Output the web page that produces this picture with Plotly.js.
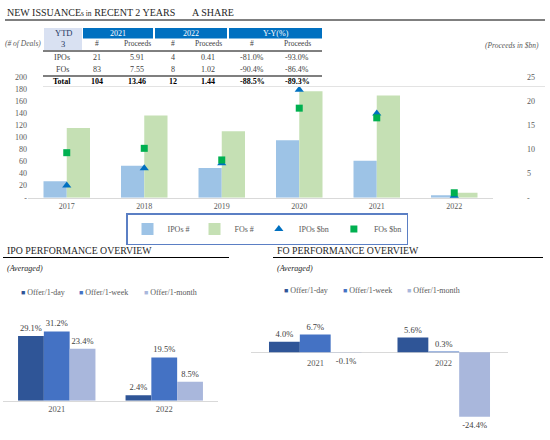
<!DOCTYPE html>
<html><head><meta charset="utf-8">
<script src="https://cdn.plot.ly/plotly-3.0.1.min.js"></script>
<style>html,body{margin:0;padding:0;background:#fff}#chart{width:550px;height:440px}</style>
</head><body><div id="chart"></div>
<script>
// ---------------- DATA ----------------
const years = ['2017', '2018', '2019', '2020', '2021', '2022'];
const ipoCount = [27, 53, 49, 95, 61, 4];
const foCount = [115, 136, 110, 176, 169, 8];
const ipoProceeds = [2.5, 6.1, 7.1, 22.3, 17.4, 0.41];
const foProceeds = [9.3, 10.2, 7.8, 18.5, 16.5, 1.02];
const leftTickVals = [0, 20, 40, 60, 80, 100, 120, 140, 160, 180, 200];
const leftTickText = ['-', '20', '40', '60', '80', '100', '120', '140', '160', '180', '200'];
const rightTickVals = [0, 5, 10, 15, 20, 25];
const rightTickText = ['-', '5', '10', '15', '20', '25'];

const ytdLabel = 'YTD';
const ytdMonth = '3';
const tableYears = ['2021', '2022', 'Y-Y(%)'];
const tableSubHeaders = ['#', 'Proceeds', '#', 'Proceeds', '#', 'Proceeds'];
const tableRowLabels = ['IPOs', 'FOs', 'Total'];
const ipoRow = ['21', '5.91', '4', '0.41', '-81.0%', '-93.0%'];
const foRow = ['83', '7.55', '8', '1.02', '-90.4%', '-86.4%'];
const totalRow = ['104', '13.46', '12', '1.44', '-88.5%', '-89.3%'];

const perfYears = ['2021', '2022'];
const perfSeries = ['Offer/1-day', 'Offer/1-week', 'Offer/1-month'];
const ipoDay = [29.1, 2.4];
const ipoWeek = [31.2, 19.5];
const ipoMonth = [23.4, 8.5];
const foDay = [4.0, 5.6];
const foWeek = [6.7, 0.3];
const foMonth = [-0.1, -24.4];

// ---------------- HELPERS ----------------
const W = 550, H = 440;
const px = v => v / W;
const py = v => 1 - v / H;
const SERIF = '"Liberation Serif", "DejaVu Serif", serif';
const GRAY = '#595959';
const TXT = '#404040';
const annotations = [];
const shapes = [];
function addText(text, x, y, o) {
  o = o || {};
  annotations.push({
    text: text, x: px(x), y: py(y), xref: 'paper', yref: 'paper',
    xanchor: o.xanchor || 'center', yanchor: 'middle', showarrow: false,
    font: { family: SERIF, size: o.size || 8, color: o.color || TXT }
  });
}
function addRect(x0, y0, x1, y1, fill) {
  shapes.push({ type: 'rect', xref: 'paper', yref: 'paper', x0: px(x0), x1: px(x1),
    y0: py(y1), y1: py(y0), fillcolor: fill, line: { width: 0 }, layer: 'below' });
}
function addLine(x0, y, x1, color, width) {
  shapes.push({ type: 'line', xref: 'paper', yref: 'paper', x0: px(x0), x1: px(x1),
    y0: py(y), y1: py(y), line: { color: color, width: width } });
}

// ---------------- HEADINGS ----------------
addText('NEW ISSUANCE<span style="font-size:7.5px">s in</span> RECENT 2 YEARS', 5, 13, { xanchor: 'left', size: 10, color: '#262626' });
addText('A SHARE', 190, 13, { xanchor: 'left', size: 10, color: '#262626' });
addLine(5, 20, 545, '#000', 1);

// ---------------- TABLE ----------------
const colCenters = [97, 137, 173, 208, 252, 297];
const headerSpans = [[83, 153], [155, 227], [229, 322]];
addRect(44, 28, 82, 50, '#d9e1f2');
headerSpans.forEach((s, i) => {
  addRect(s[0], 28, s[1], 38.5, '#0070c0');
  addText(tableYears[i], (s[0] + s[1]) / 2, 33.3, { color: '#ffffff' });
});
addText(ytdLabel, 63, 33.3, { color: '#1f3864', size: 8.5 });
addText(ytdMonth, 63, 43.5, { color: '#1f3864', size: 8.5 });
tableSubHeaders.forEach((t, i) => addText(t, colCenters[i], 43.5, { size: 7.5 }));
addText('<i>(# of Deals)</i>', 23, 43.5, { size: 7.5, color: GRAY });
addText('<i>(Proceeds in $bn)</i>', 541, 45, { xanchor: 'right', size: 7.5, color: GRAY });
addLine(43, 51, 322, '#000', 1);
const tableRows = [ipoRow, foRow, totalRow];
const rowY = [57.7, 69.7, 81.7];
tableRows.forEach((row, r) => {
  const bold = r === 2;
  const wrap = t => bold ? '<b>' + t + '</b>' : t;
  addText(wrap(tableRowLabels[r]), 62, rowY[r], { color: bold ? '#000' : TXT });
  row.forEach((v, c) => addText(wrap(v), colCenters[c], rowY[r], { color: bold ? '#000' : TXT }));
});
addLine(43, 76, 322, '#000', 1.2);
addLine(43, 86.5, 545, '#e3e3e3', 1);

// ---------------- BOTTOM TITLES ----------------
addText('IPO PERFORMANCE OVERVIEW', 5, 250, { xanchor: 'left', size: 9.8, color: '#262626' });
addLine(3, 257.5, 229, '#000', 1);
addText('<i>(Averaged)</i>', 5, 268.5, { xanchor: 'left', size: 8, color: '#262626' });
addText('FO PERFORMANCE OVERVIEW', 275, 250, { xanchor: 'left', size: 9.8, color: '#262626' });
addLine(273, 257.5, 543, '#000', 1);
addText('<i>(Averaged)</i>', 275, 268.5, { xanchor: 'left', size: 8, color: '#262626' });

// legends of the performance charts
const perfColors = ['#2f5597', '#4472c4', '#a9b7dc'];
const ipoLegendX = [19, 77, 142];
const foLegendX = [282, 341, 405];
perfSeries.forEach((name, i) => {
  const t = '<span style="color:' + perfColors[i] + ';font-size:7px">■</span> ' + name;
  addText(t, ipoLegendX[i], 292, { xanchor: 'left', size: 8, color: GRAY });
  addText(t, foLegendX[i], 290, { xanchor: 'left', size: 8, color: GRAY });
});

// FO category labels sitting on the zero line (x given as category index)
perfYears.forEach((yr, i) => {
  annotations.push({ text: yr, x: i, y: 0, xref: 'x3', yref: 'y4', yanchor: 'top',
    yshift: -4, showarrow: false, font: { family: SERIF, size: 8.5, color: GRAY } });
});

// ---------------- TRACES ----------------
const traces = [
  { type: 'bar', x: years, y: ipoCount, name: 'IPOs #', marker: { color: '#9dc3e6' },
    width: 0.3, offset: -0.3, xaxis: 'x', yaxis: 'y', hoverinfo: 'skip' },
  { type: 'bar', x: years, y: foCount, name: 'FOs #', marker: { color: '#c5e0b4' },
    width: 0.3, offset: 0, xaxis: 'x', yaxis: 'y', hoverinfo: 'skip' },
  { type: 'scatter', mode: 'markers', x: years, y: ipoProceeds, name: 'IPOs $bn',
    xaxis: 'x', yaxis: 'y2', marker: { symbol: 'triangle-up', size: 8, color: '#0070c0' }, cliponaxis: false },
  { type: 'scatter', mode: 'markers', x: years, y: foProceeds, name: 'FOs $bn',
    xaxis: 'x', yaxis: 'y2', marker: { symbol: 'square', size: 7, color: '#00b050' }, cliponaxis: false }
];
const ipoPerf = [ipoDay, ipoWeek, ipoMonth];
const foPerf = [foDay, foWeek, foMonth];
perfSeries.forEach((name, i) => {
  const common = { type: 'bar', name: name, marker: { color: perfColors[i] }, showlegend: false,
    texttemplate: '%{y:.1f}%', textposition: 'outside', textangle: 0, constraintext: 'none',
    textfont: { family: SERIF, size: 8.5, color: TXT }, cliponaxis: false, hoverinfo: 'skip' };
  traces.push(Object.assign({}, common, { x: perfYears, y: ipoPerf[i], xaxis: 'x2', yaxis: 'y3' }));
  traces.push(Object.assign({}, common, { x: perfYears, y: foPerf[i], xaxis: 'x3', yaxis: 'y4' }));
});

// ---------------- LAYOUT ----------------
const layout = {
  width: W, height: H, margin: { l: 0, r: 0, t: 0, b: 0 },
  paper_bgcolor: '#ffffff', plot_bgcolor: 'rgba(0,0,0,0)',
  font: { family: SERIF, size: 8, color: GRAY },
  barmode: 'group', bargap: 0.28, bargroupgap: 0,
  showlegend: true,
  legend: { orientation: 'h', x: px(267), xanchor: 'center', y: py(229), yanchor: 'middle',
    bordercolor: '#5b7fc4', borderwidth: 1.5, bgcolor: '#ffffff',
    font: { family: SERIF, size: 8, color: GRAY }, traceorder: 'normal' },
  xaxis: { domain: [px(28), px(493)], anchor: 'y', type: 'category', showline: true,
    linecolor: '#d9d9d9', linewidth: 1.5, ticks: '', showgrid: false, zeroline: false,
    tickfont: { size: 8, color: GRAY } },
  yaxis: { domain: [py(197.7), py(76.7)], range: [0, 200], tickvals: leftTickVals, ticktext: leftTickText,
    showgrid: false, zeroline: false, ticks: '', showline: false, tickfont: { size: 8, color: GRAY } },
  yaxis2: { overlaying: 'y', side: 'right', anchor: 'free', position: px(526), range: [0, 25],
    tickvals: rightTickVals, ticktext: rightTickText, showgrid: false, zeroline: false, ticks: '',
    showline: false, tickfont: { size: 8, color: GRAY } },
  xaxis2: { domain: [px(3), px(218)], anchor: 'y3', type: 'category', range: [-0.5, 1.5], showline: true,
    linecolor: '#d9d9d9', linewidth: 1.5, ticks: '', showgrid: false, zeroline: false,
    tickfont: { size: 8.5, color: GRAY } },
  yaxis3: { domain: [py(400.7), py(400.7 - 35 * 2.22)], range: [0, 35], visible: false },
  xaxis3: { domain: [px(251), px(508)], anchor: 'y4', type: 'category', range: [-0.5, 1.5], showline: false,
    showticklabels: false, ticks: '', showgrid: false, zeroline: false },
  yaxis4: { domain: [py(352.3 + 26 * 2.64), py(352.3 - 8 * 2.64)], range: [-26, 8],
    showticklabels: false, ticks: '', showgrid: false, showline: false,
    zeroline: true, zerolinecolor: '#d9d9d9', zerolinewidth: 1.5 },
  annotations: annotations,
  shapes: shapes
};

Plotly.newPlot('chart', traces, layout, { staticPlot: true, displayModeBar: false });
</script>
</body></html>
